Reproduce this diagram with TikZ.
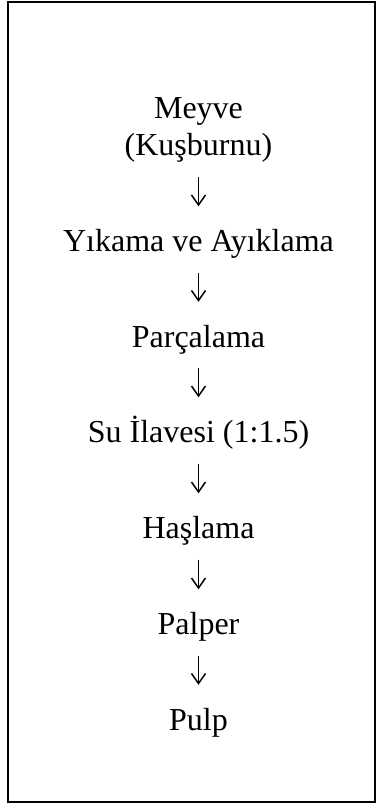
\documentclass[tikz,border=0pt]{standalone}
\usepackage{fontspec}
\setmainfont{Liberation Serif}
\usetikzlibrary{arrows.meta}
\begin{document}
\begin{tikzpicture}[x=1pt,y=-1pt,
  stage/.style={font=\fontsize{32}{37}\selectfont, inner sep=0pt,
    text height=22pt, text depth=7pt, anchor=base},
  flow/.style={line width=1.5pt, shorten <=14pt, shorten >=23pt,
    -{Straight Barb[length=10pt,width=14pt,line width=1.5pt]}},
  frame/.style={draw=black, line width=2pt}]
  \useasboundingbox (0,0) rectangle (376,805);
  % outer frame
  \draw[frame] (8,2) rectangle (374.5,802);
  % process stages
  \node[stage] (meyve) at (198.5,119) {Meyve};
  \node[stage] (kus)   at (198.5,156) {(Kuşburnu)};
  \node[stage] (yik)   at (198.5,251.5) {Yıkama ve Ayıklama};
  \node[stage] (par)   at (198.5,347) {Parçalama};
  \node[stage] (su)    at (198.5,442.5) {Su İlavesi (1:1.5)};
  \node[stage] (has)   at (198.5,538.5) {Haşlama};
  \node[stage] (pal)   at (198.5,634.5) {Palper};
  \node[stage] (pulp)  at (198.5,730) {Pulp};
  % arrows between stages
  \draw[flow] (kus.south) -- (yik.north);
  \draw[flow] (yik.south) -- (par.north);
  \draw[flow] (par.south) -- (su.north);
  \draw[flow] (su.south)  -- (has.north);
  \draw[flow] (has.south) -- (pal.north);
  \draw[flow] (pal.south) -- (pulp.north);
\end{tikzpicture}
\end{document}
